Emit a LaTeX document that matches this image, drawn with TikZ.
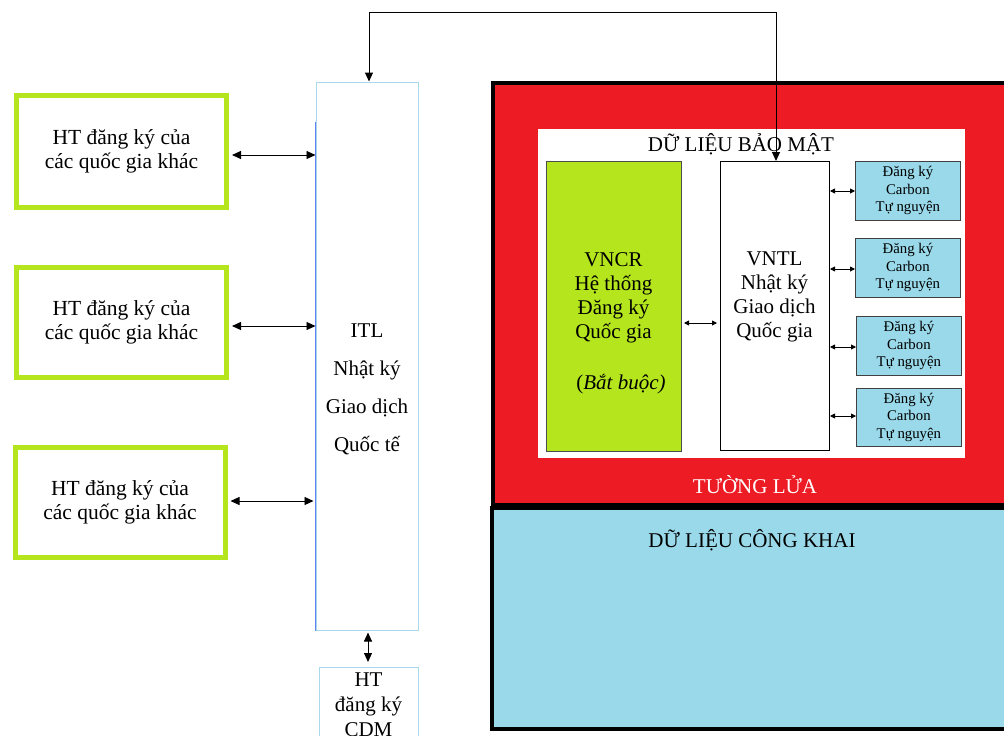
\documentclass[tikz,border=0pt]{standalone}
\usepackage{fontspec}
\setmainfont{Liberation Serif}
\usetikzlibrary{arrows.meta}
\definecolor{lgreen}{HTML}{B5E61D}
\definecolor{fred}{HTML}{ED1C24}
\definecolor{lblue}{HTML}{99D9EA}
\definecolor{itlblue}{HTML}{A8D8EC}
\tikzset{
  othersys/.style={draw=lgreen, line width=5pt, fill=white, minimum width=210pt, align=center, font=\fontsize{21.5}{24}\selectfont},
  smallbox/.style={draw=black!75, line width=0.8pt, fill=lblue, minimum width=105pt, minimum height=59pt, align=center, font=\fontsize{14.8}{17.5}\selectfont},
  bigarrow/.style={{Triangle[length=9pt,width=8pt]}-{Triangle[length=9pt,width=8pt]}, line width=0.9pt},
  tinyarrow/.style={{Triangle[length=5pt,width=5pt]}-{Triangle[length=5pt,width=5pt]}, line width=0.9pt},
  plain/.style={inner sep=0pt, align=center},
}
\begin{document}
\begin{tikzpicture}[x=1pt,y=-1pt]
\useasboundingbox (0,0) rectangle (1004,736);
\clip (0,0) rectangle (1004,736);
% left boxes
\node[othersys, minimum height=112pt] (o1) at (121.5,151.5) {HT đăng ký của\\các quốc gia khác};
\node[othersys, minimum height=110pt] (o2) at (121.5,322.5) {HT đăng ký của\\các quốc gia khác};
\node[othersys, minimum height=110pt] (o3) at (120,502.5) {HT đăng ký của\\các quốc gia khác};
% ITL
\node[draw=itlblue, line width=1pt, minimum width=102pt, minimum height=548pt, inner sep=0pt] (itl) at (367,356) {};
\draw[draw=blue!40!itlblue, line width=1pt] (itl.north west) ++(0,40) -- (itl.south west);
\node[plain, font=\fontsize{21}{38}\selectfont] (itltext) at (367,389) {ITL\\Nhật ký\\Giao dịch\\Quốc tế};
% CDM
\node[draw=itlblue, line width=1pt, minimum width=99pt, minimum height=130pt, anchor=north, inner sep=0pt] (cdm) at (368.5,667) {};
\node[plain, font=\fontsize{21}{25}\selectfont, anchor=north] (cdmtext) at (368.5,673) {HT\\đăng ký\\CDM};
% red firewall box
\node[draw=black, line width=4pt, fill=fred, minimum width=522pt, minimum height=422pt, anchor=north west, inner sep=0pt] (fw) at (491,81) {};
\node[draw=black, line width=4pt, fill=lblue, minimum width=522pt, minimum height=221pt, anchor=north west, inner sep=0pt] (pub) at (490,506) {};
\node[fill=white, minimum width=427pt, minimum height=329pt, anchor=north west, inner sep=0pt] (sec) at (538,129) {};
\node[plain, font=\fontsize{21}{24}\selectfont] (sectitle) at (741,144) {DỮ LIỆU BẢO MẬT};
\node[plain, font=\fontsize{21}{24}\selectfont, text=white] (fwtitle) at (755,485) {TƯỜNG LỬA};
\node[plain, font=\fontsize{21}{24}\selectfont] (pubtitle) at (752,540) {DỮ LIỆU CÔNG KHAI};
% VNCR
\node[draw=black!70, line width=1pt, fill=lgreen, minimum width=135pt, minimum height=290pt, anchor=north west, inner sep=0pt] (vncr) at (546,161) {};
\node[plain, font=\fontsize{21}{24}\selectfont] (vncrtext) at (613.5,298) {VNCR\\Hệ thống\\Đăng ký\\Quốc gia};
\node[plain, font=\fontsize{21}{24}\selectfont] (vncrnote) at (621,384) {(\textit{Bắt buộc)}};
% VNTL
\node[draw=black, line width=1pt, fill=white, minimum width=109pt, minimum height=289pt, anchor=north west, inner sep=0pt] (vntl) at (720,161) {};
\node[plain, font=\fontsize{21}{24}\selectfont] (vntltext) at (774.5,297) {VNTL\\Nhật ký\\Giao dịch\\Quốc gia};
% small boxes
\node[smallbox, anchor=north west] (s1) at (855,161) {Đăng ký\\Carbon\\Tự nguyện};
\node[smallbox, anchor=north west] (s2) at (855,238) {Đăng ký\\Carbon\\Tự nguyện};
\node[smallbox, anchor=north west] (s3) at (856,316) {Đăng ký\\Carbon\\Tự nguyện};
\node[smallbox, anchor=north west, minimum height=58pt] (s4) at (856,388) {Đăng ký\\Carbon\\Tự nguyện};
% arrows
\draw[bigarrow] (o1.east |- 0,155) ++(3,0) -- (itl.west |- 0,155);
\draw[bigarrow] (o2.east |- 0,326) ++(3,0) -- (itl.west |- 0,326);
\draw[bigarrow] (o3.east |- 0,501) ++(3,0) -- ([xshift=-2pt]itl.west |- 0,501);
\draw[bigarrow] ([yshift=-2pt]itl.south -| 368,0) -- ([yshift=5pt]cdm.north -| 368,0);
\draw[tinyarrow] ([xshift=2pt]vncr.east |- 0,323) -- ([xshift=-3pt]vntl.west |- 0,323);
\draw[tinyarrow] (vntl.east |- 0,191) -- (s1.west |- 0,191);
\draw[tinyarrow] (vntl.east |- 0,269) -- (s2.west |- 0,269);
\draw[tinyarrow] (vntl.east |- 0,347) -- (s3.west |- 0,347);
\draw[tinyarrow] (vntl.east |- 0,416) -- (s4.west |- 0,416);
\draw[line width=1pt, {Triangle[length=9pt,width=8pt]}-{Triangle[length=9pt,width=8pt]}] (vntl.north -| 776,0) -- (776,12) -- (369,12) -- (itl.north -| 369,0);
\end{tikzpicture}
\end{document}
